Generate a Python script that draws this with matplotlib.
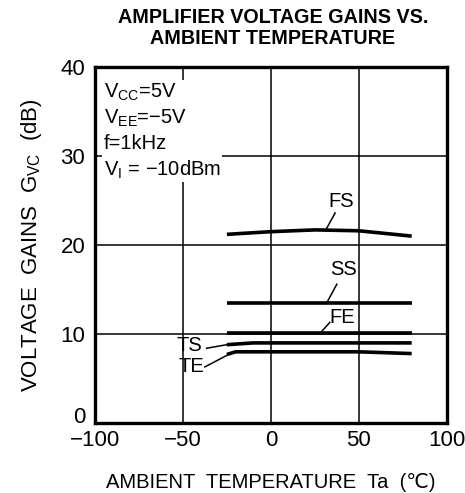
import matplotlib
matplotlib.use("Agg")
import matplotlib.pyplot as plt
import matplotlib.transforms as mtransforms

plt.rcParams["font.family"] = ["Liberation Sans", "DejaVu Sans"]
plt.rcParams["mathtext.fontset"] = "custom"
plt.rcParams["mathtext.rm"] = "Liberation Sans"
plt.rcParams["axes.unicode_minus"] = True

# curves: ambient temperature (degC) vs gain (dB)
fs_t = [-25, 0, 25, 50, 80]
fs_g = [21.2, 21.5, 21.7, 21.6, 21.0]
ss_t = [-25, 80]
ss_g = [13.5, 13.5]
fe_t = [-25, 80]
fe_g = [10.1, 10.1]
ts_t = [-25, -10, 80]
ts_g = [8.8, 9.0, 9.0]
te_t = [-25, -20, 50, 80]
te_g = [7.7, 8.0, 8.0, 7.8]

# label text, label pos, leader line start, leader line end
labels = [
    ("FS", (40, 24.9), (36.5, 23.6), (31.5, 21.8)),
    ("SS", (41, 17.2), (37.5, 15.6), (32, 13.6)),
    ("FE", (40.5, 11.8), (33.5, 11.3), (28, 10.1)),
    ("TS", (-46.5, 8.75), (-36.5, 8.4), (-25, 8.8)),
    ("TE", (-45, 6.3), (-37.5, 6.3), (-25, 7.6)),
]

fig = plt.figure(figsize=(4.65, 4.93), dpi=100)
ax = fig.add_axes([0.204, 0.142, 0.757, 0.722])

for t, g in [(fs_t, fs_g), (ss_t, ss_g), (fe_t, fe_g), (ts_t, ts_g), (te_t, te_g)]:
    ax.plot(t, g, color="black", lw=2.6, solid_capstyle="butt", zorder=3)

for name, lpos, a0, a1 in labels:
    ax.text(lpos[0], lpos[1], name, ha="center", va="center", fontsize=14.5, zorder=4)
    ax.plot([a0[0], a1[0]], [a0[1], a1[1]], color="black", lw=1.1, zorder=3)

ax.set_xlim(-100, 100)
ax.set_ylim(0, 40)
ax.set_xticks([-100, -50, 0, 50, 100])
ax.set_yticks([0, 10, 20, 30, 40])
ax.tick_params(length=0, labelsize=16, pad=5)
ax.tick_params(axis="y", pad=7)
ax.grid(True, color="black", lw=1.1)
ax.set_axisbelow(True)
for s in ax.spines.values():
    s.set_linewidth(2.4)

# the "0" on the y axis sits a little above the corner, clear of "-100"
lift = mtransforms.ScaledTranslation(0, 6 / 72, fig.dpi_scale_trans)
ylab0 = ax.get_yticklabels()[0]
ylab0.set_transform(ylab0.get_transform() + lift)

cond = ("V$_{\\mathrm{CC}}$=5V\nV$_{\\mathrm{EE}}$=\u22125V\nf=1kHz\nV$_{\\mathrm{I}}$ = \u221210dBm")
ax.text(-95, 38.4, cond, ha="left", va="top", fontsize=14.5, linespacing=1.32,
        bbox=dict(facecolor="white", edgecolor="none", pad=1), zorder=5)

ax.set_xlabel("AMBIENT  TEMPERATURE  Ta  (\u2103)", fontsize=14.5, labelpad=16)
ax.set_ylabel("VOLTAGE  GAINS  G$_{\\mathrm{VC}}$  (dB)", fontsize=16, labelpad=12)
fig.text(0.587, 0.943, "AMPLIFIER VOLTAGE GAINS VS.\nAMBIENT TEMPERATURE",
         ha="center", va="center", fontsize=14.2, fontweight="bold", linespacing=1.15)

fig.savefig("out.png", dpi=100)
